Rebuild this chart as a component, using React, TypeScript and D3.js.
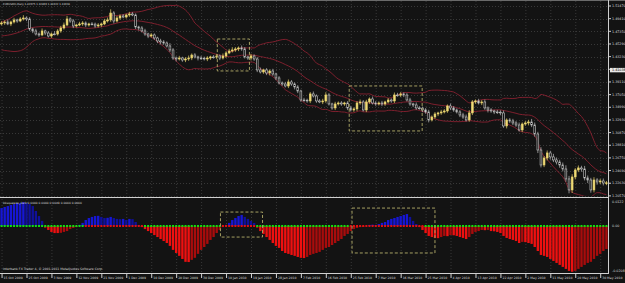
import React from 'react';
import * as d3 from 'd3';

const W = 625;
const H = 283;

const title = 'EURUSDm,Daily 1.42675 1.42869 1.41022 1.41038';
const indicatorTitle = 'bbsqueeze_dark 0.0000 0.0000 0.0049 0.0000 0.0000';
const copyright = 'Interbank FX Trader 4, \u00a9 2001-2011 MetaQuotes Software Corp.';
const bidPrice = 1.41038;

const timeLabels = [
  '15 Oct 2009', '25 Oct 2009', '3 Nov 2009', '12 Nov 2009', '21 Nov 2009', '1 Dec 2009',
  '10 Dec 2009', '20 Dec 2009', '30 Dec 2009', '10 Jan 2010', '19 Jan 2010', '28 Jan 2010',
  '7 Feb 2010', '16 Feb 2010', '25 Feb 2010', '7 Mar 2010', '16 Mar 2010', '25 Mar 2010',
  '4 Apr 2010', '13 Apr 2010', '22 Apr 2010', '2 May 2010', '11 May 2010', '20 May 2010', '30 May 2010',
];
const barsPerLabel = 8;

const priceTicks = [
  1.5147, 1.4941, 1.4735, 1.4529, 1.4323, 1.4117, 1.3911, 1.3705,
  1.3499, 1.3293, 1.3087, 1.2881, 1.2675, 1.2469, 1.2263, 1.2057,
];
const indMax = 0.0122;
const indMin = -0.0208;

// bars before the first visible one, only used for the bands
const priorCloses = [
  1.4760, 1.4720, 1.4690, 1.4650, 1.4610, 1.4570, 1.4530, 1.4490, 1.4470, 1.4510,
  1.4560, 1.4600, 1.4650, 1.4700, 1.4720, 1.4700, 1.4750, 1.4790, 1.4840,
];
const firstOpen = 1.4855;
const closes = [
  1.4871, 1.4887, 1.4855, 1.4887, 1.4920, 1.4903, 1.4936, 1.4952, 1.4936, 1.4773,
  1.4741, 1.4692, 1.4676, 1.4741, 1.4708, 1.4659, 1.4692, 1.4690, 1.4741, 1.4789,
  1.4838, 1.4936, 1.4903, 1.4822, 1.4838, 1.4855, 1.4871, 1.4838, 1.4855, 1.4852,
  1.4822, 1.4838, 1.4855, 1.4903, 1.4920, 1.5033, 1.4903, 1.4952, 1.4985, 1.4968,
  1.5001, 1.5017, 1.5001, 1.4806, 1.4789, 1.4741, 1.4692, 1.4659, 1.4676, 1.4627,
  1.4578, 1.4562, 1.4545, 1.4497, 1.4432, 1.4301, 1.4285, 1.4301, 1.4269, 1.4285,
  1.4301, 1.4350, 1.4318, 1.4301, 1.4298, 1.4285, 1.4301, 1.4318, 1.4315, 1.4334,
  1.4301, 1.4334, 1.4383, 1.4415, 1.4432, 1.4448, 1.4464, 1.4448, 1.4318, 1.4301,
  1.4334, 1.4285, 1.4106, 1.4074, 1.4106, 1.4057, 1.4090, 1.4041, 1.3976, 1.3895,
  1.3878, 1.3846, 1.3911, 1.3878, 1.3830, 1.3764, 1.3618, 1.3615, 1.3602, 1.3716,
  1.3683, 1.3602, 1.3586, 1.3602, 1.3699, 1.3553, 1.3488, 1.3553, 1.3569, 1.3553,
  1.3569, 1.3488, 1.3455, 1.3472, 1.3569, 1.3586, 1.3455, 1.3586, 1.3634, 1.3569,
  1.3553, 1.3569, 1.3553, 1.3586, 1.3618, 1.3602, 1.3699, 1.3696, 1.3716, 1.3699,
  1.3618, 1.3553, 1.3537, 1.3488, 1.3485, 1.3455, 1.3423, 1.3293, 1.3341, 1.3390,
  1.3407, 1.3423, 1.3439, 1.3520, 1.3488, 1.3455, 1.3423, 1.3374, 1.3341, 1.3293,
  1.3407, 1.3586, 1.3602, 1.3569, 1.3586, 1.3488, 1.3455, 1.3439, 1.3423, 1.3420,
  1.3407, 1.3195, 1.3293, 1.3276, 1.3244, 1.3211, 1.3130, 1.3227, 1.3244, 1.3260,
  1.3211, 1.3065, 1.2804, 1.2560, 1.2674, 1.2756, 1.2691, 1.2642, 1.2609, 1.2560,
  1.2495, 1.2333, 1.2154, 1.2365, 1.2479, 1.2512, 1.2495, 1.2349, 1.2316, 1.2154,
  1.2316, 1.2284, 1.2300, 1.2267, 1.2270,
];
// wick lengths in pips above / below the body
const wickUp = [
  30, 25, 40, 20, 35, 20, 30, 45, 25, 30, 20, 35, 25, 40, 20, 30, 25, 45, 30, 35,
  40, 50, 25, 30, 20, 35, 30, 25, 20, 30, 25, 30, 20, 35, 40, 60, 30, 35, 25, 30,
  20, 35, 30, 25, 20, 30, 35, 20, 30, 25, 20, 35, 30, 25, 45, 30, 25, 35, 20, 30,
  40, 25, 30, 20, 35, 25, 30, 20, 30, 35, 25, 40, 30, 35, 45, 30, 25, 40, 30, 20,
  35, 25, 30, 40, 20, 30, 25, 35, 20, 30, 25, 35, 40, 30, 25, 30, 20, 35, 25, 30,
  40, 25, 30, 35, 45, 30, 20, 35, 25, 30, 20, 30, 35, 25, 30, 40, 30, 35, 25, 40,
  30, 25, 35, 20, 30, 25, 40, 35, 30, 25, 30, 35, 20, 40, 30, 25, 30, 35, 25, 30,
  20, 35, 30, 25, 40, 30, 25, 30, 35, 40, 45, 30, 25, 35, 30, 40, 25, 30, 20, 35,
  30, 40, 25, 30, 35, 30, 40, 25, 30, 35, 50, 40, 35, 45, 30, 40, 35, 50, 40, 35,
  40, 60, 50, 45, 30, 40, 35, 50, 40, 35, 45, 30, 35, 40, 30,
];
const wickDown = [
  25, 30, 20, 35, 25, 30, 20, 25, 35, 30, 35, 25, 30, 20, 35, 25, 30, 20, 25, 30,
  25, 20, 30, 35, 25, 20, 30, 35, 25, 20, 30, 25, 35, 20, 25, 30, 40, 25, 30, 20,
  25, 30, 20, 35, 40, 25, 30, 35, 25, 30, 35, 40, 30, 25, 35, 30, 40, 25, 30, 35,
  30, 35, 25, 40, 30, 25, 35, 30, 25, 30, 35, 25, 30, 20, 25, 30, 35, 30, 25, 30,
  40, 30, 35, 25, 30, 35, 40, 30, 35, 25, 30, 25, 35, 30, 40, 35, 30, 25, 30, 35,
  25, 30, 20, 35, 30, 25, 30, 35, 25, 30, 30, 35, 25, 30, 35, 30, 25, 35, 30, 25,
  30, 25, 35, 30, 25, 30, 35, 25, 30, 35, 25, 30, 35, 30, 25, 35, 30, 40, 25, 30,
  35, 30, 25, 30, 35, 30, 25, 35, 30, 25, 30, 35, 30, 25, 35, 30, 40, 30, 35, 30,
  35, 30, 40, 30, 35, 30, 25, 35, 30, 40, 35, 45, 50, 40, 35, 40, 45, 35, 40, 45,
  40, 45, 55, 50, 40, 35, 45, 40, 50, 45, 40, 45, 35, 40, 35,
];

const squeezeHist = [
  0.0081, 0.0086, 0.0090, 0.0095, 0.0099, 0.0104, 0.0104, 0.0108, 0.0104, 0.0099,
  0.0090, 0.0068, 0.0045, 0.0023, -0.0009, -0.0018, -0.0027, -0.0032, -0.0032, -0.0031,
  -0.0027, -0.0023, -0.0014, -0.0009, -0.0005, 0.0005, 0.0014, 0.0027, 0.0036, 0.0041,
  0.0045, 0.0046, 0.0041, 0.0036, 0.0037, 0.0041, 0.0036, 0.0032, 0.0031, 0.0032,
  0.0027, 0.0032, 0.0031, 0.0018, 0.0005, -0.0005, -0.0014, -0.0023, -0.0032, -0.0041,
  -0.0050, -0.0059, -0.0068, -0.0077, -0.0090, -0.0108, -0.0122, -0.0135, -0.0149, -0.0162,
  -0.0163, -0.0153, -0.0144, -0.0126, -0.0108, -0.0095, -0.0081, -0.0063, -0.0050, -0.0032,
  -0.0018, -0.0005, 0.0005, 0.0014, 0.0027, 0.0036, 0.0045, 0.0050, 0.0041, 0.0032,
  0.0023, 0.0014, -0.0009, -0.0023, -0.0036, -0.0050, -0.0063, -0.0077, -0.0090, -0.0099,
  -0.0113, -0.0122, -0.0126, -0.0131, -0.0135, -0.0140, -0.0144, -0.0145, -0.0140, -0.0131,
  -0.0126, -0.0122, -0.0117, -0.0108, -0.0099, -0.0095, -0.0086, -0.0077, -0.0068, -0.0059,
  -0.0045, -0.0036, -0.0023, -0.0014, -0.0009, -0.0005, -0.0004, 0.0001, 0.0005, 0.0006,
  0.0005, 0.0009, 0.0014, 0.0018, 0.0027, 0.0032, 0.0036, 0.0041, 0.0045, 0.0050,
  0.0054, 0.0041, 0.0023, 0.0009, -0.0005, -0.0018, -0.0032, -0.0045, -0.0050, -0.0054,
  -0.0055, -0.0050, -0.0045, -0.0046, -0.0041, -0.0042, -0.0045, -0.0050, -0.0054, -0.0059,
  -0.0050, -0.0036, -0.0027, -0.0023, -0.0018, -0.0019, -0.0018, -0.0023, -0.0024, -0.0027,
  -0.0032, -0.0045, -0.0054, -0.0059, -0.0063, -0.0068, -0.0077, -0.0072, -0.0073, -0.0077,
  -0.0081, -0.0095, -0.0113, -0.0131, -0.0135, -0.0140, -0.0149, -0.0158, -0.0167, -0.0176,
  -0.0185, -0.0194, -0.0203, -0.0207, -0.0203, -0.0194, -0.0185, -0.0176, -0.0167, -0.0162,
  -0.0149, -0.0135, -0.0126, -0.0113, -0.0104,
];
// bar index ranges where the squeeze dots are red
const squeezeOn = [[27, 45], [71, 81], [112, 135]];

// dashed annotation boxes, in bar index / price units
const priceBoxes = [
  { from: 69.2, to: 79.5, hi: 1.4610, lo: 1.4090 },
  { from: 111.5, to: 134.9, hi: 1.3846, lo: 1.3114 },
];
const indBoxes = [
  { from: 70.2, to: 83.7, hi: 0.0063, lo: -0.0050 },
  { from: 112.4, to: 139.0, hi: 0.0081, lo: -0.0122 },
];

const BG = '#131313';
const GRID = '#383838';
const TXT = '#d8d8d8';
const FONT = 'DejaVu Sans, sans-serif';

export default function App() {
  const n = closes.length;
  const right = 608;
  const mainBottom = 196;
  const indTop = 199;
  const indBottom = 272;

  const x = d3.scaleLinear().domain([-0.5, n - 0.5]).range([0, right]);
  const y = d3.scaleLinear()
    .domain([priceTicks[priceTicks.length - 1], priceTicks[0]])
    .range([195.9, 6]);
  const yi = d3.scaleLinear().domain([indMin, indMax]).range([indBottom, indTop]);

  const opens = closes.map((c, i) => (i === 0 ? firstOpen : closes[i - 1]));
  const all = priorCloses.concat(closes);
  const p = priorCloses.length;
  const bands = closes.map((_, i) => {
    const win = all.slice(i + p - 19, i + p + 1);
    const m = d3.mean(win) as number;
    const sd = Math.sqrt(d3.mean(win, v => (v - m) * (v - m)) as number);
    return { i, m, up: m + 2 * sd, lo: m - 2 * sd };
  });

  const bandLine = (key: 'm' | 'up' | 'lo') =>
    d3.line<any>().x(d => x(d.i)).y(d => y(d[key])).curve(d3.curveMonotoneX)(bands) as string;

  const bodyW = 1.8;
  const zero = yi(0);
  const isSqueeze = (i: number) => squeezeOn.some(([a, b]) => i >= a && i <= b);

  return (
    <div style={{ position: 'absolute', left: 0, top: 0 }}>
      <svg width={W} height={H} style={{ display: 'block', background: BG }} fontFamily={FONT}>
        <defs>
          <clipPath id="mainClip"><rect x={0} y={1} width={right} height={mainBottom - 1} /></clipPath>
          <clipPath id="indClip"><rect x={0} y={indTop} width={right} height={indBottom - indTop} /></clipPath>
        </defs>
        <rect x={0} y={0} width={W} height={H} fill={BG} />
        <line x1={0} x2={W} y1={0.5} y2={0.5} stroke="#6a6a6a" />

        {/* grid */}
        {timeLabels.map((t, k) => (
          <line key={'vg' + k} x1={x(k * barsPerLabel) + 0.5} x2={x(k * barsPerLabel) + 0.5} y1={1} y2={indBottom}
            stroke={GRID} strokeDasharray="1,2" />
        ))}
        {priceTicks.map((v, k) => (
          <line key={'hg' + k} x1={0} x2={right} y1={Math.round(y(v)) + 0.5} y2={Math.round(y(v)) + 0.5}
            stroke={GRID} strokeDasharray="1,2" />
        ))}

        {/* bands */}
        <g clipPath="url(#mainClip)" fill="none" stroke="#7d1f2d" strokeWidth={1}>
          <path d={bandLine('up')} />
          <path d={bandLine('m')} />
          <path d={bandLine('lo')} />
        </g>

        {/* candles */}
        <g clipPath="url(#mainClip)">
          {closes.map((c, i) => {
            const o = opens[i];
            const hi = Math.max(o, c) + wickUp[i] / 10000;
            const lo = Math.min(o, c) - wickDown[i] / 10000;
            const bull = c >= o;
            const top = y(Math.max(o, c));
            const h = Math.max(0.8, y(Math.min(o, c)) - top);
            const cx = x(i);
            return (
              <g key={'c' + i}>
                <line x1={cx} x2={cx} y1={y(hi)} y2={y(lo)} stroke={bull ? '#e6d16c' : '#bdbdbd'} strokeWidth={0.7} />
                <rect x={cx - bodyW / 2} y={top} width={bodyW} height={h}
                  fill={bull ? '#f0dc78' : BG} stroke={bull ? '#e6d16c' : '#c8c8c8'} strokeWidth={0.6} />
              </g>
            );
          })}
        </g>

        {priceBoxes.map((b, k) => (
          <rect key={'pb' + k} x={x(b.from)} y={y(b.hi)} width={x(b.to) - x(b.from)} height={y(b.lo) - y(b.hi)}
            fill="none" stroke="#a59f62" strokeWidth={1} strokeDasharray="3,2" />
        ))}

        <text x={3} y={5} fontSize={2.6} fill={TXT}>{title}</text>

        {/* panel separator */}
        <line x1={0} x2={right} y1={197.5} y2={197.5} stroke="#d0d0d0" strokeWidth={1.2} />

        {/* squeeze histogram */}
        <g clipPath="url(#indClip)">
          {squeezeHist.map((v, i) => {
            const prev = i === 0 ? 0 : squeezeHist[i - 1];
            const growing = Math.abs(v) >= Math.abs(prev);
            const fill = v >= 0 ? (growing ? '#1616d4' : '#10109a') : (growing ? '#ee1010' : '#a80c0c');
            return (
              <rect key={'h' + i} x={x(i) - 1.2} width={2.4} y={Math.min(zero, yi(v))}
                height={Math.abs(yi(v) - zero)} fill={fill} />
            );
          })}
          {squeezeHist.map((_, i) => (
            <rect key={'d' + i} x={x(i) - 1} y={zero - 1} width={2} height={2}
              fill={isSqueeze(i) ? '#e01010' : '#10e010'} />
          ))}
        </g>

        {indBoxes.map((b, k) => (
          <rect key={'ib' + k} x={x(b.from)} y={yi(b.hi)} width={x(b.to) - x(b.from)} height={yi(b.lo) - yi(b.hi)}
            fill="none" stroke="#a59f62" strokeWidth={1} strokeDasharray="3,2" />
        ))}

        <text x={3} y={203.5} fontSize={2.9} fill={TXT}>{indicatorTitle}</text>
        <text x={3} y={270} fontSize={3.1} fill={TXT}>{copyright}</text>

        {/* axes */}
        <line x1={right + 0.5} x2={right + 0.5} y1={0} y2={indBottom + 1} stroke="#d0d0d0" />
        <line x1={0} x2={right + 1} y1={indBottom + 1.5} y2={indBottom + 1.5} stroke="#d0d0d0" />

        {priceTicks.map((v, k) => (
          <g key={'pt' + k}>
            <line x1={right} x2={right + 3} y1={y(v)} y2={y(v)} stroke="#d0d0d0" />
            <text x={right + 4} y={y(v) + 1.2} fontSize={3.3} fill={TXT}>{v.toFixed(5)}</text>
          </g>
        ))}
        <rect x={right + 2} y={y(bidPrice) - 2.2} width={20} height={4.4} fill="#e8e8e8" />
        <text x={right + 4} y={y(bidPrice) + 1.2} fontSize={3.3} fill="#000">{bidPrice.toFixed(5)}</text>

        <text x={right + 4} y={indTop + 3.5} fontSize={3.3} fill={TXT}>{indMax.toFixed(4)}</text>
        <text x={right + 4} y={zero + 1.2} fontSize={3.3} fill={TXT}>0.00</text>
        <text x={right + 4} y={indBottom} fontSize={3.3} fill={TXT}>{indMin.toFixed(4)}</text>

        {timeLabels.map((t, k) => {
          const tx = x(k * barsPerLabel);
          return (
            <g key={'tl' + k}>
              <line x1={tx + 0.5} x2={tx + 0.5} y1={indBottom + 2} y2={indBottom + 6} stroke="#d0d0d0" />
              <text x={tx + 2} y={indBottom + 7} fontSize={3.1} fill={TXT}>{t}</text>
            </g>
          );
        })}
      </svg>
    </div>
  );
}
